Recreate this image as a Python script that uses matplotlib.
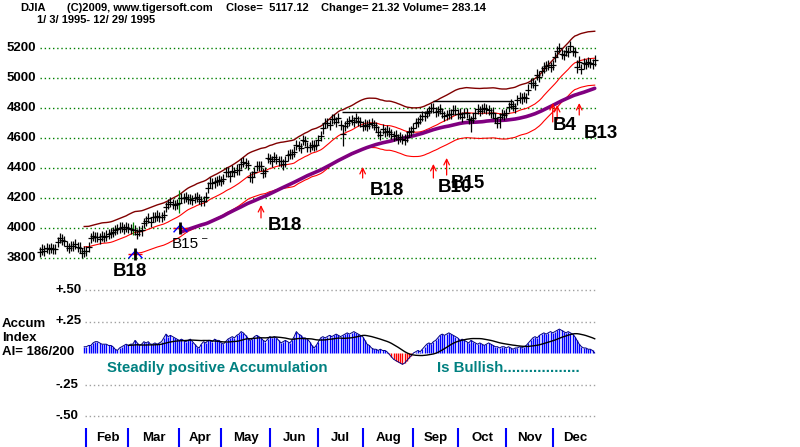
import matplotlib.pyplot as plt
import matplotlib.transforms as mtransforms
import numpy as np

plt.rcParams['font.family'] = ['Liberation Sans', 'DejaVu Sans']

# DJIA daily closes, 1995
jan = [3838, 3857, 3850, 3867, 3861, 3866, 3862, 3861, 3908, 3932, 3923, 3912, 3881, 3867,
       3882, 3882, 3895, 3871, 3870, 3832, 3844]
feb = [3847, 3871, 3932, 3945, 3940, 3938, 3930, 3945, 3942, 3950, 3962, 3968, 3975, 3985,
       3995, 4003, 4008, 3992, 4005]
mar = [4001, 3992, 3990, 3987, 3962, 3980, 3984, 4035, 4048, 4069, 4040, 4074, 4073, 4083,
       4071, 4074, 4087, 4138, 4158, 4172, 4160, 4151, 4158]
apr = [4168, 4201, 4200, 4205, 4192, 4191, 4187, 4200, 4208, 4195, 4180, 4179, 4207, 4270,
       4303, 4297, 4304, 4316, 4321]
may = [4316, 4329, 4373, 4372, 4344, 4383, 4376, 4390, 4390, 4430, 4438, 4436, 4422, 4340,
       4341, 4376, 4412, 4413, 4413, 4369, 4381, 4465]
jun = [4462, 4444, 4476, 4462, 4446, 4444, 4424, 4444, 4484, 4491, 4492, 4510, 4553, 4547,
       4533, 4589, 4579, 4538, 4542, 4551, 4550, 4556]
jul = [4585, 4615, 4664, 4702, 4700, 4688, 4727, 4728, 4709, 4736, 4686, 4628, 4680, 4700,
       4712, 4720, 4708, 4732, 4715, 4708]
aug = [4680, 4690, 4683, 4693, 4701, 4688, 4671, 4643, 4618, 4659, 4640, 4650, 4639, 4629,
       4615, 4620, 4595, 4605, 4595, 4590, 4610, 4639, 4645]
sep = [4665, 4700, 4706, 4728, 4748, 4748, 4765, 4780, 4801, 4798, 4771, 4781, 4793, 4767,
       4747, 4756, 4761, 4762, 4787, 4789]
oct_ = [4761, 4763, 4740, 4765, 4769, 4726, 4718, 4735, 4764, 4793, 4782, 4792, 4802, 4794,
        4785, 4766, 4770, 4733, 4703, 4741, 4759, 4755]
nov = [4766, 4808, 4825, 4815, 4800, 4852, 4870, 4864, 4871, 4865, 4923, 4966, 4969, 4952,
       5023, 5010, 5048, 5070, 5078, 5088, 5074]
dec = [5087, 5139, 5177, 5200, 5159, 5156, 5182, 5173, 5216, 5182, 5176, 5075, 5110, 5059,
       5097, 5096, 5105, 5098, 5095, 5117]

# days with long bars: day -> (low, high)
long_bars = {42: (3953, 4040), 63: (4100, 4253), 96: (4300, 4380), 102: (4340, 4410),
             137: (4550, 4690), 195: (4640, 4750), 208: (4667, 4770), 243: (5033, 5120)}
green_days = [42, 63]

# Accumulation index from day 20 on
accum = [0.05, 0.05, 0.06, 0.06, 0.08, 0.09, 0.09, 0.08, 0.07, 0.07,
         0.07, 0.06, 0.06, 0.05, 0.03, 0.02, 0.04, 0.05, 0.06, 0.07,
         0.06, 0.07, 0.07, 0.10, 0.08, 0.06, 0.07, 0.09, 0.08, 0.09,
         0.07, 0.07, 0.08, 0.07, 0.08, 0.09, 0.12, 0.15, 0.13, 0.14,
         0.13, 0.12, 0.11, 0.10, 0.11, 0.10, 0.09, 0.10, 0.11, 0.09,
         0.07, 0.05, 0.04, 0.07, 0.09, 0.08, 0.10, 0.10, 0.09, 0.11,
         0.10, 0.10, 0.08, 0.07, 0.09, 0.11, 0.12, 0.13, 0.12, 0.14,
         0.15, 0.17, 0.16, 0.14, 0.12, 0.10, 0.11, 0.13, 0.14, 0.13,
         0.12, 0.10, 0.09, 0.11, 0.13, 0.12, 0.13, 0.12, 0.10, 0.08,
         0.09, 0.10, 0.09, 0.08, 0.10, 0.13, 0.17, 0.15, 0.14, 0.12,
         0.12, 0.11, 0.09, 0.06, 0.04, 0.06, 0.09, 0.12, 0.13, 0.12,
         0.13, 0.14, 0.13, 0.14, 0.15, 0.14, 0.13, 0.14, 0.15, 0.16,
         0.15, 0.16, 0.17, 0.16, 0.15, 0.14, 0.13, 0.10, 0.07, 0.06,
         0.04, 0.03, 0.03, 0.02, 0.03, 0.02, 0.02, 0.01, -0.01, -0.03,
         -0.05, -0.06, -0.07, -0.08, -0.09, -0.08, -0.06, -0.04, -0.02, 0.0,
         0.01, 0.02, 0.01, 0.03, 0.05, 0.07, 0.08, 0.07, 0.09, 0.10,
         0.12, 0.14, 0.15, 0.14, 0.15, 0.16, 0.15, 0.14, 0.13, 0.12,
         0.10, 0.11, 0.10, 0.09, 0.08, 0.10, 0.09, 0.08, 0.07, 0.08,
         0.07, 0.06, 0.07, 0.08, 0.07, 0.06, 0.05, 0.05, 0.04, 0.05,
         0.05, 0.04, 0.05, 0.04, 0.03, 0.04, 0.04, 0.05, 0.04, 0.05,
         0.06, 0.08, 0.10, 0.12, 0.13, 0.12, 0.14, 0.15, 0.16, 0.15,
         0.16, 0.17, 0.16, 0.17, 0.18, 0.19, 0.18, 0.17, 0.16, 0.17,
         0.16, 0.15, 0.13, 0.10, 0.07, 0.05, 0.04, 0.04, 0.03, 0.03, 0.02, 0.0]
accum_start = 20

months = ['Feb', 'Mar', 'Apr', 'May', 'Jun', 'Jul', 'Aug', 'Sep', 'Oct', 'Nov', 'Dec']
month_start = [21, 40, 63, 82, 104, 126, 146, 169, 189, 211, 232]
n_days = 252

price_levels = [3800, 4000, 4200, 4400, 4600, 4800, 5000, 5200]
accum_levels = [0.50, 0.25, -0.25, -0.50]
accum_labels = ['+.50', '+.25', '-.25', '-.50']

# horizontal resistance lines: start day, end day, level
res_start = [136.7, 178.0]
res_end = [176.5, 214.0]
res_level = [4775, 4850]

# buy signals: red arrows and their labels
arrow_day = [100, 146, 178, 184, 232, 234, 244]
arrow_tip = [4153, 4407, 4427, 4467, 4833, 4820, 4833]
arrow_base = [4067, 4333, 4333, 4353, 4707, 4720, 4753]
sig_text = ['B18', 'B18', 'B10', 'B15', 'B4', 'B13', 'B18']
sig_day = [103.2, 149.3, 180.1, 186.0, 232.1, 246.2, 33.0]
sig_price = [4020, 4253, 4267, 4300, 4680, 4627, 3707]
tent_day = [42.8, 63.3]
tent_price = [3827, 4000]

close = np.array(jan + feb + mar + apr + may + jun + jul + aug + sep + oct_ + nov + dec, float)
days = np.arange(len(close))
lows = close - 34
highs = close + 34
for d, (lo, hi) in long_bars.items():
    lows[d], highs[d] = lo, hi

ma21 = np.convolve(close, np.ones(21) / 21, mode='valid')
ma21_days = days[20:]
ma65 = np.convolve(close, np.ones(65) / 65, mode='valid')
ma65_days = days[64:]
lower = ma21 * 0.965
lower = np.where(lower < 3815, np.nan, lower)

acc = np.array(accum)
acc_days = np.arange(accum_start, accum_start + len(acc))
acc_ma = np.convolve(acc, np.ones(21) / 21, mode='valid')
acc_ma_days = acc_days[20:]

# ---- layout (pixel based) ----
W, H = 800, 447
fig = plt.figure(figsize=(W / 100, H / 100), dpi=100)
fig.patch.set_facecolor('white')
X0, DX = 40, 2.21
PL, PR = 30, 600


def day_at(px):
    return (px - X0) / DX


def panel(top, bottom):
    ax = fig.add_axes([PL / W, 1 - bottom / H, (PR - PL) / W, (bottom - top) / H])
    ax.set_xlim(day_at(PL), day_at(PR))
    ax.axis('off')
    ax.patch.set_alpha(0)
    return ax


ax_p = panel(26, 268)
ax_p.set_ylim(3800 - 10 * 20 / 3, 3800 + 232 * 20 / 3)
ax_a = panel(280, 425)
ax_a.set_ylim(-72 / 126, 73 / 126)
ax_m = panel(425, 447)
ax_m.set_ylim(0, 1)

# header
hdr_font = dict(fontsize=8, fontweight='bold', va='center')
fig.text(20 / W, 1 - 8 / H, 'DJIA', **hdr_font)
fig.text(67 / W, 1 - 8 / H, '(C)2009, www.tigersoft.com', **hdr_font)
fig.text(226 / W, 1 - 8 / H, 'Close=  5117.12', **hdr_font)
fig.text(321 / W, 1 - 8 / H, 'Change= 21.32 Volume= 283.14', **hdr_font)
fig.text(37 / W, 1 - 20 / H, '1/ 3/ 1995- 12/ 29/ 1995', **hdr_font)

# ---- price panel ----
ax_p.hlines(price_levels, 0, n_days, colors='#008000', linestyles=(0, (1, 2)), lw=1)
tr_p = mtransforms.blended_transform_factory(fig.transFigure, ax_p.transData)
for lv in price_levels:
    ax_p.text(7 / W, lv, str(lv), transform=tr_p, fontsize=9.5, fontweight='bold', va='center')

ax_p.plot(ma21_days, ma21 * 1.035, color='#800000', lw=1)
ax_p.plot(ma21_days, ma21, color='#ff0000', lw=0.8)
ax_p.plot(ma21_days, lower, color='#ff0000', lw=0.8)
ax_p.plot(ma65_days, ma65, color='#800080', lw=2.6, solid_capstyle='round')
ax_p.hlines(res_level, res_start, res_end, colors='black', lw=1)

bar_colors = ['#008000' if d in green_days else 'black' for d in days]
ax_p.vlines(days, lows, highs, colors=bar_colors, lw=0.9)
ax_p.plot(days, close, ls='none', marker='_', ms=4, mew=0.9, color='black')

for d, tip, base in zip(arrow_day, arrow_tip, arrow_base):
    ax_p.annotate('', xy=(d, tip), xytext=(d, base),
                  arrowprops=dict(arrowstyle='->', color='red', lw=0.9,
                                  shrinkA=0, shrinkB=0, mutation_scale=10))
for t, d, p in zip(sig_text, sig_day, sig_price):
    ax_p.text(d, p, t, fontsize=13.5, fontweight='bold', va='center', ha='left')

tent = [(-1, -0.55), (0, 0.55), (1, -0.55)]
ax_p.plot(tent_day, tent_price, ls='none', marker='_', ms=10, mew=1, color='red')
ax_p.plot(tent_day, tent_price, ls='none', marker=tent, ms=10, mfc='none', mec='blue', mew=1)
ax_p.plot(tent_day, tent_price, ls='none', marker='|', ms=8, mew=2, color='black')
ax_p.text(59.7, 3893, 'B15', fontsize=11, va='center', ha='left')
ax_p.text(73.5, 3935, '\u2013', fontsize=7, va='center', ha='left')

# ---- accumulation panel ----
ax_a.hlines(accum_levels, day_at(85), n_days, colors='#a0a0a0', linestyles=(0, (1, 2)), lw=1)
tr_a = mtransforms.blended_transform_factory(fig.transFigure, ax_a.transData)
for lv, lb in zip(accum_levels, accum_labels):
    ax_a.text(55 / W, lv, lb, transform=tr_a, fontsize=9.5, fontweight='bold', va='center')
acc_colors = ['#0000ff' if v >= 0 else '#ff0000' for v in acc]
ax_a.vlines(acc_days, 0, acc, colors=acc_colors, lw=1)
ax_a.plot(acc_days, acc, color='#000080', lw=0.7)
ax_a.plot(acc_ma_days, acc_ma, color='black', lw=1)

lab_font = dict(fontsize=9.5, fontweight='bold', va='center')
fig.text(2 / W, 1 - 324 / H, 'Accum', **lab_font)
fig.text(2 / W, 1 - 338 / H, 'Index', **lab_font)
fig.text(2 / W, 1 - 352 / H, 'AI= 186/200', **lab_font)
teal = dict(fontsize=10.8, fontweight='bold', va='center', color='#008080')
fig.text(107 / W, 1 - 368 / H, 'Steadily positive Accumulation', **teal)
fig.text(437 / W, 1 - 368 / H, 'Is Bullish' + '.' * 18, **teal)

# ---- months ----
ax_m.vlines(month_start, 0, 0.86, colors='#0000ff', lw=1.5)
month_end = month_start[1:] + [n_days]
for m, s, e in zip(months, month_start, month_end):
    ax_m.text((s + e) / 2, 0.42, m, fontsize=9.5, fontweight='bold', ha='center', va='center')

fig.savefig('out.png', dpi=100)
